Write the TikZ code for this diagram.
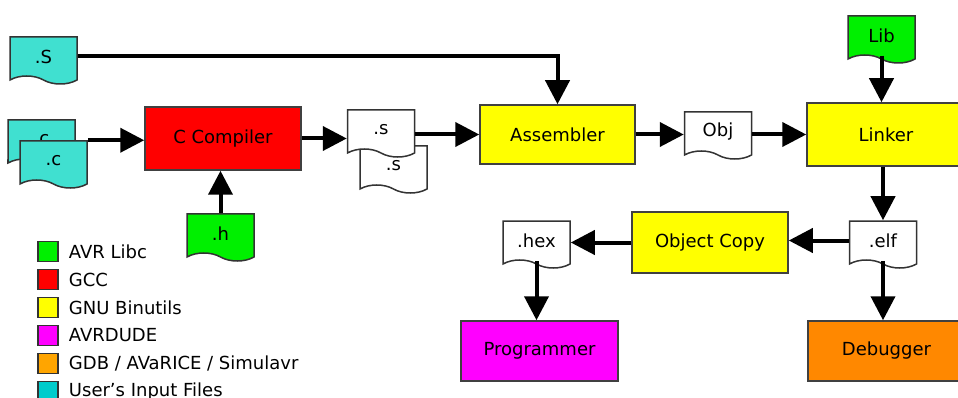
\documentclass[tikz,border=0pt]{standalone}
\usepackage{fontspec}
\setmainfont{DejaVu Sans}
\usetikzlibrary{positioning,shapes.symbols,arrows.meta}

\definecolor{libcgreen}{RGB}{0,240,0}
\definecolor{gccred}{RGB}{255,0,0}
\definecolor{binyellow}{RGB}{255,255,0}
\definecolor{dudemagenta}{RGB}{255,0,255}
\definecolor{gdborange}{RGB}{255,136,0}
\definecolor{keyorange}{RGB}{255,165,0}
\definecolor{usercyan}{RGB}{64,224,208}
\definecolor{keycyan}{RGB}{0,204,204}

\tikzset{
  tool/.style={rectangle,draw=black!75,line width=1.5pt,inner sep=0pt,
    font=\fontsize{18}{20}\selectfont},
  doc/.style={tape,tape bend top=none,tape bend bottom=out and in,
    tape bend height=8pt,draw=black!80,line width=1.5pt,fill=white,
    minimum width=67pt,minimum height=47pt,inner sep=0pt,
    font=\fontsize{18}{20}\selectfont},
  flow/.style={line width=4pt,-{Triangle[length=24pt,width=24pt]}},
  keybox/.style={rectangle,draw=black!80,line width=1.5pt,inner sep=0pt,
    minimum size=20pt},
  keytext/.style={font=\fontsize{18}{20}\selectfont,inner sep=0pt},
}

\begin{document}
\begin{tikzpicture}[x=1pt,y=-1pt]
\useasboundingbox (0,0) rectangle (958,398);

% source files
\node[doc,fill=usercyan] (dotS) at (43.5,56.5) {.S};
\node[doc,fill=usercyan] (cback) at (41.5,139.5) {.c};
\node[doc,fill=usercyan] (cfront) at (53.5,160.5) {.c};
\node[doc,fill=libcgreen] (hdoc) at (220.5,233.5) {.h};
\node[doc,fill=libcgreen] (lib) at (881.5,35.5) {Lib};

% tools
\node[tool,fill=gccred,minimum width=156pt,minimum height=63pt] (cc) at (223,138.5) {C Compiler};
\node[tool,fill=binyellow,minimum width=155pt,minimum height=59pt] (asm) at (557.5,134.5) {Assembler};
\node[tool,fill=binyellow,minimum width=158pt,minimum height=63pt] (linker) at (886,134.5) {Linker};
\node[tool,fill=binyellow,minimum width=156pt,minimum height=61pt] (objcopy) at (710,242.5) {Object Copy};
\node[tool,fill=dudemagenta,minimum width=157pt,minimum height=60pt] (prog) at (539.5,351) {Programmer};
\node[tool,fill=gdborange,minimum width=157pt,minimum height=60pt] (dbg) at (886.5,351) {Debugger};

% intermediate files
\node[doc] (sback) at (393.5,165.5) {.s};
\node[doc] (sfront) at (381,129.5) {.s};
\node[doc] (obj) at (718,131.5) {Obj};
\node[doc] (elf) at (883,240.5) {.elf};
\node[doc] (hex) at (536.5,240.5) {.hex};

% flow
\draw[flow] (dotS.east) -| (asm.north);
\draw[flow] (cfront.north east) -- (cc.west |- cfront.north east);
\draw[flow] (hdoc.north) -- (hdoc.north |- cc.south);
\draw[flow] (cc.east) -- (sfront.west |- cc.east);
\draw[flow] (sfront.east |- asm.west) -- (asm.west);
\draw[flow] (asm.east) -- (obj.west |- asm.east);
\draw[flow] (obj.east |- linker.west) -- (linker.west);
\draw[flow] (lib.south) -- (lib.south |- linker.north);
\draw[flow] (elf.north |- linker.south) -- (elf.north);
\draw[flow] (elf.west) -- (objcopy.east |- elf.west);
\draw[flow] (objcopy.west) -- (hex.east |- objcopy.west);
\draw[flow] (hex.south) -- (hex.south |- prog.north);
\draw[flow] (elf.south) -- (elf.south |- dbg.north);

% legend
\foreach \col/\txt [count=\i] in {libcgreen/AVR Libc,gccred/GCC,binyellow/GNU Binutils,
    dudemagenta/AVRDUDE,keyorange/{GDB / AVaRICE / Simulavr},keycyan/User's Input Files} {
  \node[keybox,fill=\col,label={[keytext,label distance=10pt]right:\txt}] (key\i) at (48,223.5+28*\i) {};
}
\end{tikzpicture}
\end{document}
